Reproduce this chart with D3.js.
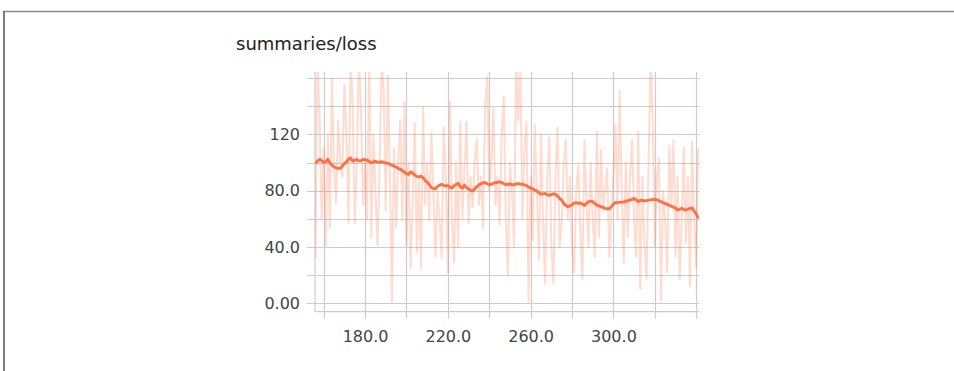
<!DOCTYPE html>
<html>
<head>
<meta charset="utf-8">
<script src="https://cdn.jsdelivr.net/npm/d3@7"></script>
<style>
  html, body { margin: 0; padding: 0; background: #fff; }
  svg { display: block; }
  .tick text { font-family: "DejaVu Sans", sans-serif; font-size: 16px; fill: #444; }
</style>
</head>
<body>
<svg id="chart" width="954" height="371"></svg>
<script>
// Training loss scalar, one value per step from 156 to 341
const chartTitle = "summaries/loss";
const firstStep = 156;

const rawLoss = [
  32, 175, 130, 60, 110, 41, 120, 54, 160, 95,
  71, 130, 100, 90, 155, 120, 57, 175, 140, 57,
  100, 175, 140, 70, 100, 60, 175, 47, 120, 80,
  41, 95, 175, 150, 66, 162, 90, 1, 110, 54,
  100, 130, 59, 143, 41, 100, 25, 70, 128, 36,
  90, 25, 139, 70, 100, 59, 121, 80, 33, 80,
  60, 32, 125, 90, 22, 143, 60, 29, 100, 40,
  129, 60, 95, 129, 57, 90, 68, 102, 117, 70,
  90, 53, 141, 161, 80, 100, 139, 70, 90, 56,
  120, 147, 60, 20, 100, 80, 40, 175, 130, 175,
  60, 110, 129, 1, 90, 45, 127, 80, 31, 120,
  60, 14, 90, 118, 40, 14, 90, 125, 40, 57,
  100, 116, 60, 90, 40, 22, 80, 98, 50, 17,
  116, 70, 40, 100, 60, 33, 122, 47, 109, 66,
  80, 96, 33, 66, 90, 127, 60, 151, 80, 29,
  100, 47, 90, 116, 60, 33, 122, 10, 90, 40,
  17, 100, 175, 130, 40, 90, 103, 2, 80, 60,
  22, 112, 70, 116, 33, 90, 17, 60, 111, 43,
  90, 12, 115, 60, 26, 110
];

const smoothedLoss = [
  99.4, 101.0, 102.3, 101.5, 100.2, 100.5, 102.3, 100.0, 98.2, 97.0,
  96.3, 96.0, 95.9, 97.5, 99.3, 100.6, 102.5, 103.2, 101.0, 101.5,
  102.3, 101.3, 101.2, 102.3, 102.0, 101.8, 100.8, 99.9, 100.5, 101.0,
  100.2, 100.3, 100.6, 100.1, 99.7, 99.4, 98.8, 98.2, 97.5, 96.8,
  95.9, 95.2, 94.3, 93.2, 92.2, 91.6, 93.3, 92.5, 91.1, 90.2,
  89.9, 90.4, 89.2, 87.5, 86.0, 84.4, 82.3, 81.6, 81.3, 83.0,
  84.0, 84.5, 83.8, 83.5, 83.5, 82.5, 82.0, 83.6, 84.5, 85.2,
  83.0, 81.8, 84.0, 82.2, 81.2, 80.3, 79.8, 81.3, 83.0, 84.2,
  85.0, 85.5, 85.9, 85.0, 84.2, 84.7, 85.2, 85.7, 86.0, 86.4,
  85.8, 85.0, 84.3, 84.6, 84.9, 84.3, 84.2, 85.0, 85.0, 84.7,
  84.6, 84.2, 83.6, 82.6, 82.0, 81.3, 80.5, 79.8, 78.6, 77.6,
  77.8, 78.1, 77.2, 76.8, 77.3, 77.8, 77.5, 76.2, 74.6, 73.4,
  71.0, 69.5, 68.6, 69.2, 70.0, 71.3, 71.5, 71.0, 71.3, 70.6,
  69.5, 71.0, 72.3, 72.6, 72.2, 71.0, 69.8, 69.2, 68.7, 68.2,
  67.5, 67.2, 67.3, 68.5, 70.5, 71.7, 71.5, 71.7, 71.9, 72.1,
  72.6, 73.0, 73.4, 73.9, 74.5, 73.5, 72.3, 73.2, 73.1, 72.7,
  73.0, 73.3, 73.5, 73.8, 73.9, 73.5, 72.9, 72.2, 71.6, 71.0,
  70.3, 69.6, 69.0, 68.3, 67.6, 66.4, 66.8, 67.5, 66.6, 66.3,
  66.9, 67.4, 67.8, 65.6, 63.5, 60.4
];

const xGridValues = [160, 180, 200, 220, 240, 260, 280, 300, 320, 340];
const xTickValues = [180, 220, 260, 300];
const xTickLabels = ["180.0", "220.0", "260.0", "300.0"];
const yGridValues = [0, 20, 40, 60, 80, 100, 120, 140, 160];
const yTickValues = [0, 40, 80, 120];
const yTickLabels = ["0.00", "40.0", "80.0", "120"];
const xDomain = [155.8, 341.6];
const yDomain = [-6, 164.4];

const plot = { left: 315, right: 699.5, top: 72, bottom: 311.7 };
const gridColor = "#cdcdcd";
const lineColor = "#ff7043";

const svg = d3.select("#chart");

// card frame
svg.append("line").attr("x1", 3.5).attr("x2", 954).attr("y1", 11.5).attr("y2", 11.5)
  .attr("stroke", "#8c8c8c").attr("stroke-width", 1.5);
svg.append("line").attr("x1", 4).attr("x2", 4).attr("y1", 11).attr("y2", 371)
  .attr("stroke", "#555").attr("stroke-width", 1.5);

svg.append("text")
  .attr("x", 236).attr("y", 50)
  .attr("font-family", "DejaVu Sans, sans-serif")
  .attr("font-size", 18)
  .attr("fill", "#212121")
  .text(chartTitle);

const x = d3.scaleLinear().domain(xDomain).range([plot.left, plot.right]);
const y = d3.scaleLinear().domain(yDomain).range([plot.bottom, plot.top]);

// grid lines, extending past the axes as tick marks
const grid = svg.append("g").attr("stroke", gridColor).attr("stroke-width", 1.2);
grid.selectAll("line.v").data(xGridValues).join("line")
  .attr("class", "v")
  .attr("x1", d => Math.round(x(d)) + 0.5).attr("x2", d => Math.round(x(d)) + 0.5)
  .attr("y1", plot.top).attr("y2", plot.bottom + 7);
grid.selectAll("line.h").data(yGridValues).join("line")
  .attr("class", "h")
  .attr("y1", d => Math.round(y(d)) + 0.5).attr("y2", d => Math.round(y(d)) + 0.5)
  .attr("x1", plot.left - 8).attr("x2", plot.right);
grid.append("line")
  .attr("x1", plot.left).attr("x2", plot.left)
  .attr("y1", plot.top).attr("y2", plot.bottom);
grid.append("line")
  .attr("x1", plot.left).attr("x2", plot.right)
  .attr("y1", plot.bottom).attr("y2", plot.bottom);

// axis labels
const xAxis = d3.axisBottom(x).tickValues(xTickValues)
  .tickFormat((d, i) => xTickLabels[i]).tickSize(0).tickPadding(19);
svg.append("g").attr("transform", `translate(0,${plot.bottom})`).call(xAxis)
  .call(g => g.select(".domain").remove());

const yAxis = d3.axisLeft(y).tickValues(yTickValues)
  .tickFormat((d, i) => yTickLabels[i]).tickSize(0).tickPadding(15);
svg.append("g").attr("transform", `translate(${plot.left},0)`).call(yAxis)
  .call(g => g.select(".domain").remove());

// data lines clipped to the plot area
svg.append("clipPath").attr("id", "plot-clip")
  .append("rect")
  .attr("x", plot.left).attr("y", plot.top)
  .attr("width", plot.right - plot.left).attr("height", plot.bottom - plot.top);

const rows = rawLoss.map((v, i) => ({ step: firstStep + i, raw: v, smooth: smoothedLoss[i] }));

const layer = svg.append("g").attr("clip-path", "url(#plot-clip)");

layer.append("path").datum(rows)
  .attr("fill", "none")
  .attr("stroke", lineColor).attr("stroke-opacity", 0.25)
  .attr("stroke-width", 2)
  .attr("stroke-linejoin", "round")
  .attr("d", d3.line().x(d => x(d.step)).y(d => y(d.raw)));

layer.append("path").datum(rows)
  .attr("fill", "none")
  .attr("stroke", lineColor)
  .attr("stroke-width", 2.9)
  .attr("stroke-linejoin", "round")
  .attr("d", d3.line().x(d => x(d.step)).y(d => y(d.smooth)));
</script>
</body>
</html>
